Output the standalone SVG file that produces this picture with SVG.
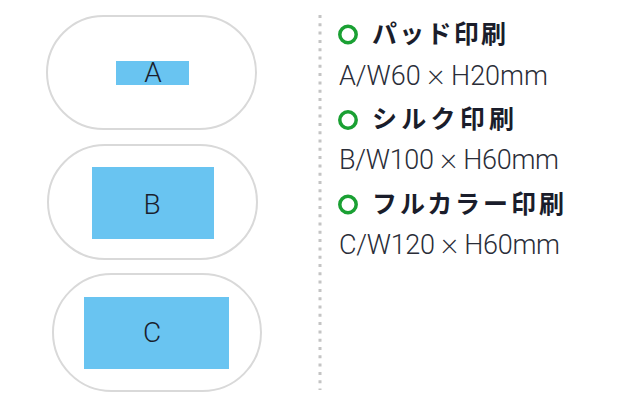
<svg xmlns="http://www.w3.org/2000/svg" width="640" height="413" viewBox="0 0 640 413">
<style>
.cap{fill:#fff;stroke:#d9d9d9;stroke-width:2}
.area{fill:#69c4f1}
.lbl{font-family:Roboto,"Liberation Sans",sans-serif;font-weight:300;font-size:28px;fill:#1a1f2e;text-anchor:middle}
.ttl{font-family:"Noto Sans CJK JP",sans-serif;font-weight:700;font-size:25px;fill:#1a1d2b}
.dim{font-family:Roboto,"Liberation Sans",sans-serif;font-weight:300;font-size:27px;fill:#2a2d38}
.x{font-size:33px;font-weight:200}
.dot{fill:none;stroke:#1aa033;stroke-width:3.5}
</style>
<rect width="640" height="413" fill="#fff"/>
<g id="divider">
<line x1="320" y1="15" x2="320" y2="390" stroke="#c4c4c4" stroke-width="3" stroke-dasharray="3 5.3"/>
</g>
<g id="nodeA">
<rect class="cap" x="47" y="16" width="209" height="113" rx="56.5"/>
<rect class="area" x="116" y="61" width="73" height="24"/>
<text class="lbl" x="153" y="82">A</text>
</g>
<g id="nodeB">
<rect class="cap" x="48" y="145" width="209" height="114" rx="57"/>
<rect class="area" x="92" y="167" width="122" height="72"/>
<text class="lbl" x="152" y="214">B</text>
</g>
<g id="nodeC">
<rect class="cap" x="53" y="274" width="208" height="117" rx="58.5"/>
<rect class="area" x="84" y="297" width="145" height="72"/>
<text class="lbl" x="152" y="342">C</text>
</g>
<g id="legend">
<circle class="dot" cx="348" cy="34.5" r="8.2"/>
<text class="ttl" x="372" y="43" textLength="134" lengthAdjust="spacing">パッド印刷</text>
<text class="dim" x="339" y="85" textLength="209" lengthAdjust="spacing">A/W60 <tspan class="x">×</tspan> H20mm</text>
<circle class="dot" cx="348" cy="120" r="8.2"/>
<text class="ttl" x="372" y="128" textLength="142" lengthAdjust="spacing">シルク印刷</text>
<text class="dim" x="339" y="169" textLength="220" lengthAdjust="spacing">B/W100 <tspan class="x">×</tspan> H60mm</text>
<circle class="dot" cx="348" cy="204.5" r="8.2"/>
<text class="ttl" x="372" y="213" textLength="192" lengthAdjust="spacing">フルカラー印刷</text>
<text class="dim" x="339" y="254" textLength="221" lengthAdjust="spacing">C/W120 <tspan class="x">×</tspan> H60mm</text>
</g>
</svg>
